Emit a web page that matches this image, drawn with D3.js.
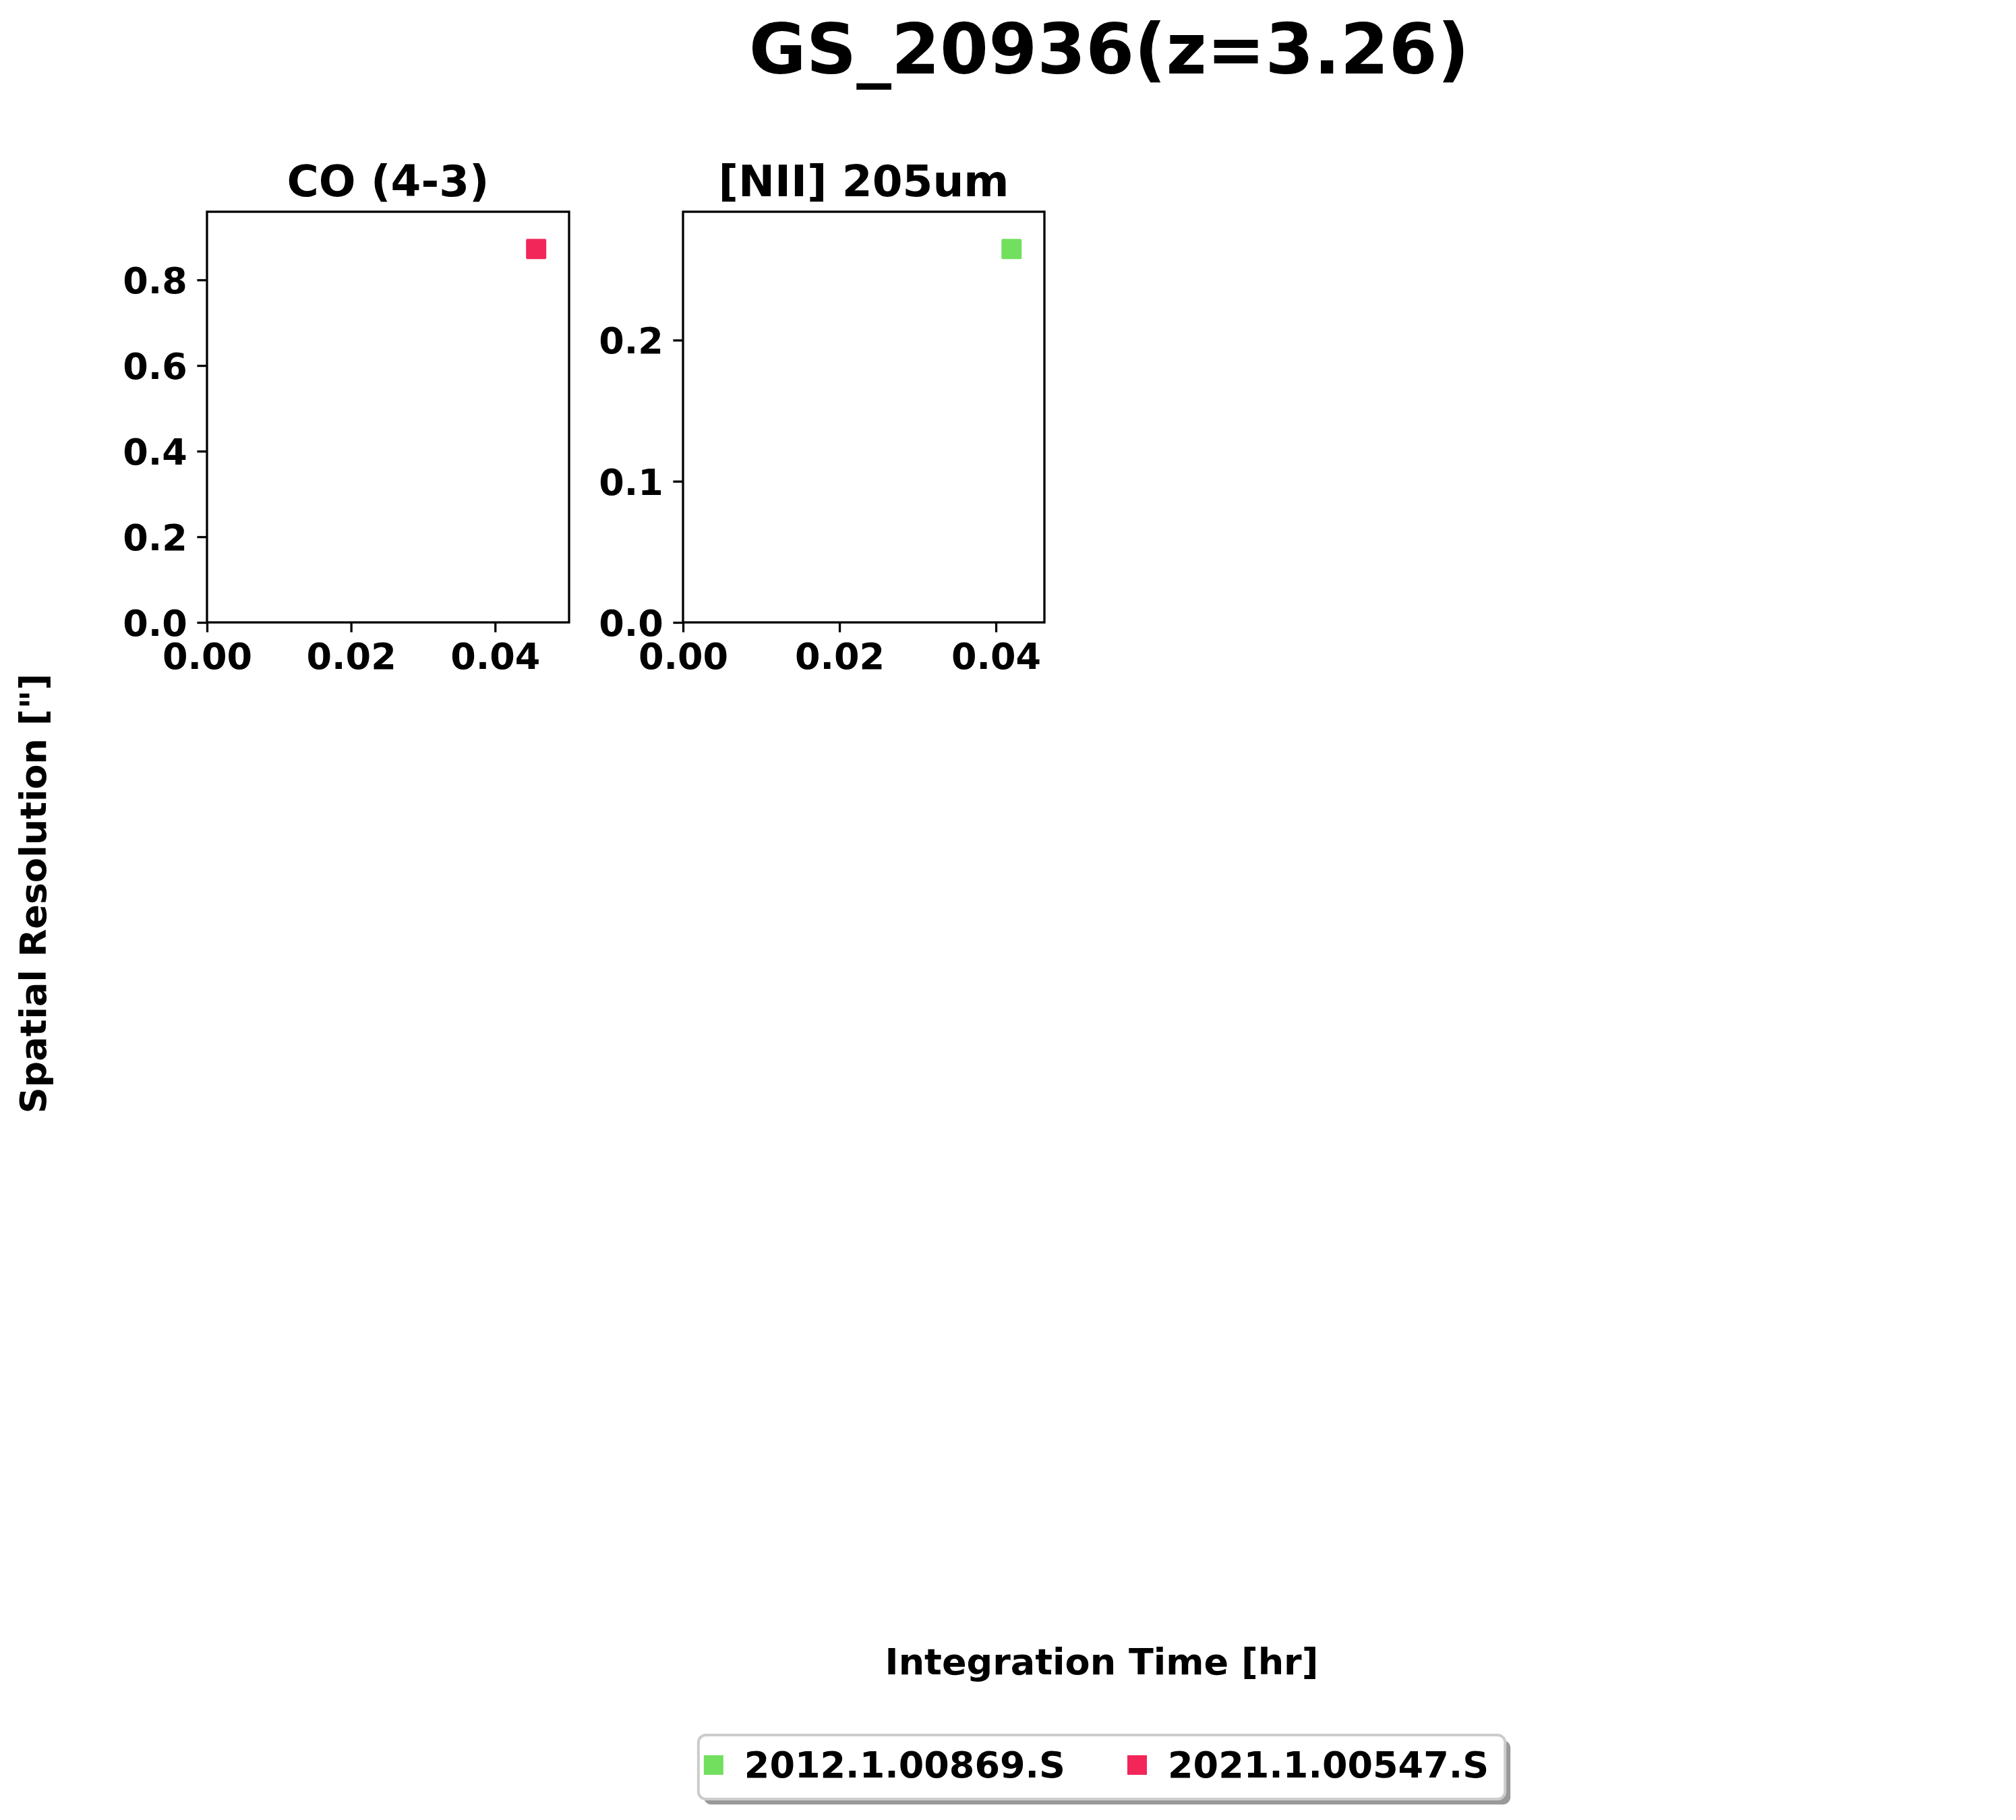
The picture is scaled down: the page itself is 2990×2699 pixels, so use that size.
<!DOCTYPE html>
<html>
<head>
<meta charset="utf-8">
<script src="https://cdn.jsdelivr.net/npm/d3@7"></script>
<style>
  html, body { margin: 0; padding: 0; background: #fff; }
  svg { display: block; }
  text { font-family: "DejaVu Sans", sans-serif; font-weight: bold; fill: #000; }
</style>
</head>
<body>
<script>
// ---- data ----
const figureTitle = "GS_20936(z=3.26)";
const panelTitles = ["CO (4-3)", "[NII] 205um"];
const panelProjects = ["2021.1.00547.S", "2012.1.00869.S"];
const integrationTimes = [0.0457, 0.0420];      // hr
const spatialResolutions = [0.872, 0.2645];     // arcsec
const xTickValues = [[0, 0.02, 0.04], [0, 0.02, 0.04]];
const yTickValues = [[0, 0.2, 0.4, 0.6, 0.8], [0, 0.1, 0.2]];
const legendProjects = ["2012.1.00869.S", "2021.1.00547.S"];
const legendColors = ["#72df5f", "#f22659"];
const xLabel = "Integration Time [hr]";
const yLabel = "Spatial Resolution [\"]";

// ---- layout ----
const W = 2990, H = 2699;
const panelBoxes = [
  { left: 307, right: 844, top: 314, bottom: 923 },
  { left: 1013, right: 1549, top: 314, bottom: 923 }
];
const colorOf = d3.scaleOrdinal().domain(legendProjects).range(legendColors);

const svg = d3.select("body").append("svg")
  .attr("width", W).attr("height", H)
  .attr("viewBox", `0 0 ${W} ${H}`);
svg.append("rect").attr("width", W).attr("height", H).attr("fill", "#fff");

// figure title
svg.append("text").attr("x", 1645).attr("y", 109)
  .attr("text-anchor", "middle").attr("font-size", 103.5)
  .text(figureTitle);

const tickLen = 14.6, tickPad = 14.6, lw = 3.3, tickFont = 54;

panelTitles.forEach((title, i) => {
  const b = panelBoxes[i];
  const x = d3.scaleLinear().domain([0, integrationTimes[i] * 1.1]).range([b.left, b.right]);
  const y = d3.scaleLinear().domain([0, spatialResolutions[i] * 1.1]).range([b.bottom, b.top]);
  const g = svg.append("g");

  // x axis
  const xa = g.append("g").attr("transform", `translate(0,${b.bottom})`)
    .call(d3.axisBottom(x).tickValues(xTickValues[i]).tickFormat(d3.format(".2f"))
      .tickSizeInner(tickLen).tickSizeOuter(0).tickPadding(tickPad));
  xa.select(".domain").remove();
  xa.selectAll(".tick line").attr("stroke", "#000").attr("stroke-width", lw);
  xa.selectAll(".tick text").attr("font-size", tickFont).attr("font-family", "DejaVu Sans")
    .attr("font-weight", "bold").attr("fill", "#000").attr("dy", "0.73em");

  // y axis
  const ya = g.append("g").attr("transform", `translate(${b.left},0)`)
    .call(d3.axisLeft(y).tickValues(yTickValues[i]).tickFormat(d3.format(".1f"))
      .tickSizeInner(tickLen).tickSizeOuter(0).tickPadding(tickPad));
  ya.select(".domain").remove();
  ya.selectAll(".tick line").attr("stroke", "#000").attr("stroke-width", lw);
  ya.selectAll(".tick text").attr("font-size", tickFont).attr("font-family", "DejaVu Sans")
    .attr("font-weight", "bold").attr("fill", "#000").attr("dy", "0.36em");

  // frame
  g.append("rect").attr("x", b.left).attr("y", b.top)
    .attr("width", b.right - b.left).attr("height", b.bottom - b.top)
    .attr("fill", "none").attr("stroke", "#000").attr("stroke-width", lw);

  // marker
  const ms = 30;
  g.append("rect")
    .attr("x", x(integrationTimes[i]) - ms / 2)
    .attr("y", y(spatialResolutions[i]) - ms / 2)
    .attr("width", ms).attr("height", ms).attr("rx", 2)
    .attr("fill", colorOf(panelProjects[i]));

  // panel title
  g.append("text").attr("x", (b.left + b.right) / 2).attr("y", 291)
    .attr("text-anchor", "middle").attr("font-size", 64.5)
    .text(title);
});

// axis labels
svg.append("text").attr("x", 1634).attr("y", 2483)
  .attr("text-anchor", "middle").attr("font-size", 54).text(xLabel);
svg.append("text").attr("transform", "translate(68,1325) rotate(-90)")
  .attr("text-anchor", "middle").attr("font-size", 54).text(yLabel);

// legend
const leg = svg.append("g");
const shadow = leg.append("rect");
const frame = leg.append("rect");
const items = leg.append("g");
let cursor = 0;
const gap = 92;
legendProjects.forEach((p, k) => {
  const mLeft = cursor + (k === 0 ? 8 : 0);
  items.append("rect").attr("x", mLeft).attr("y", 2603).attr("width", 29).attr("height", 29)
    .attr("fill", colorOf(p));
  const t = items.append("text").attr("x", mLeft + 60).attr("y", 2636)
    .attr("font-size", 54).text(p);
  const w = t.node().getComputedTextLength();
  cursor = mLeft + 60 + w + gap;
});
const totalW = cursor - gap + 24;
const legLeft = 1634 - totalW / 2;
items.attr("transform", `translate(${legLeft},0)`);
shadow.attr("x", legLeft + 8).attr("y", 2573 + 8).attr("width", totalW).attr("height", 95)
  .attr("rx", 11).attr("fill", "#999");
frame.attr("x", legLeft).attr("y", 2573).attr("width", totalW).attr("height", 95)
  .attr("rx", 11).attr("fill", "#fff").attr("stroke", "#cccccc").attr("stroke-width", 4);
</script>
</body>
</html>
